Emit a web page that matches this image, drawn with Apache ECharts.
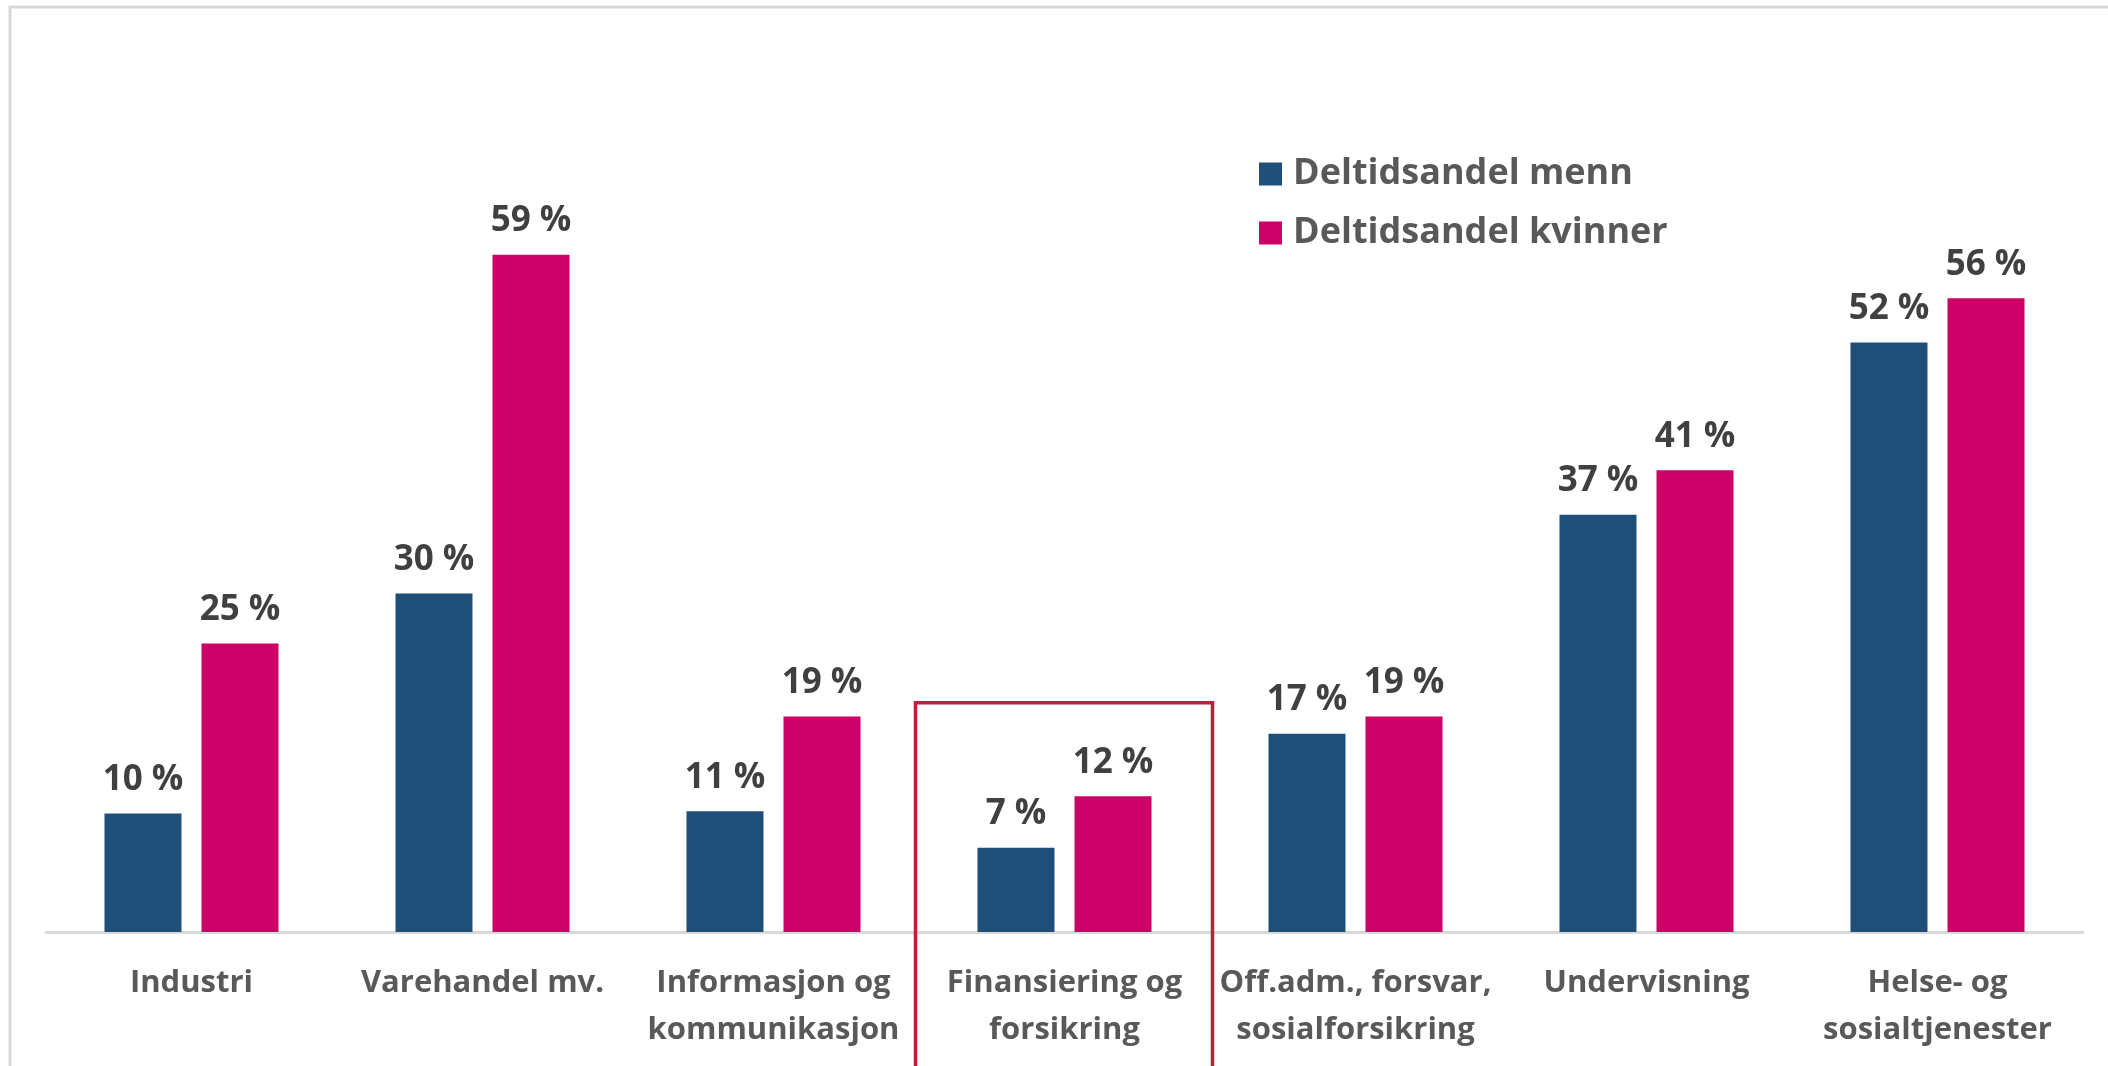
<!DOCTYPE html>
<html>
<head>
<meta charset="utf-8">
<script src="https://cdn.jsdelivr.net/npm/echarts@6/dist/echarts.min.js"></script>
<style>
  html, body { margin: 0; padding: 0; background: #fff; }
  #chart { width: 2108px; height: 1066px; }
</style>
</head>
<body>
<div id="chart"></div>
<script>
const categories = [
  'Industri',
  'Varehandel mv.',
  'Informasjon og\nkommunikasjon',
  'Finansiering og\nforsikring',
  'Off.adm., forsvar,\nsosialforsikring',
  'Undervisning',
  'Helse- og\nsosialtjenester'
];
const menn = [10.4, 29.7, 10.6, 7.4, 17.4, 36.6, 51.7];
const kvinner = [25.3, 59.4, 18.9, 11.9, 18.9, 40.5, 55.6];

const FONT = 'Open Sans';
const chart = echarts.init(document.getElementById('chart'));

const labelCfg = {
  show: true,
  position: 'top',
  distance: 16,
  fontFamily: FONT,
  fontWeight: 'bold',
  fontSize: 35,
  color: '#404040',
  formatter: p => Math.round(p.value) + ' %'
};

const option = {
  backgroundColor: '#fff',
  animation: false,
  grid: { left: 46, right: 25, top: 134, bottom: 134 },
  legend: {
    orient: 'vertical',
    left: 1259,
    top: 156,
    padding: 0,
    icon: 'rect',
    itemWidth: 23,
    itemHeight: 23,
    itemGap: 23,
    textStyle: {
      fontFamily: FONT,
      fontWeight: 'bold',
      fontSize: 36,
      lineHeight: 36,
      color: '#595959',
      padding: [0, 0, 0, 6]
    }
  },
  xAxis: {
    type: 'category',
    data: categories,
    axisLine: { lineStyle: { color: '#d9d9d9', width: 3 } },
    axisTick: { show: false },
    axisLabel: {
      interval: 0,
      margin: 28,
      fontFamily: FONT,
      fontWeight: 'bold',
      fontSize: 31,
      lineHeight: 47,
      color: '#595959'
    }
  },
  yAxis: {
    type: 'value',
    min: 0,
    max: 70,
    show: false,
    splitLine: { show: false }
  },
  series: [
    {
      name: 'Deltidsandel menn',
      type: 'bar',
      data: menn,
      barWidth: 77,
      barGap: '26%',
      itemStyle: { color: '#1f4e79' },
      label: labelCfg
    },
    {
      name: 'Deltidsandel kvinner',
      type: 'bar',
      data: kvinner,
      barWidth: 77,
      itemStyle: { color: '#cc0066' },
      label: labelCfg
    }
  ]
};

chart.setOption(option);

// frame + highlight box around "Finansiering og forsikring"
const cx = chart.convertToPixel({ xAxisIndex: 0 }, categories[3]);
const yTop = chart.convertToPixel({ yAxisIndex: 0 }, 20.1);
chart.setOption({
  graphic: [
    {
      type: 'rect',
      silent: true,
      shape: { x: 10, y: 7, width: 2300, height: 1200 },
      style: { fill: 'none', stroke: '#d9d9d9', lineWidth: 3 }
    },
    {
      type: 'rect',
      silent: true,
      z: 100,
      shape: { x: cx - 149, y: yTop, width: 297, height: 500 },
      style: { fill: 'none', stroke: '#be1e3c', lineWidth: 3.5 }
    }
  ]
});
</script>
</body>
</html>
